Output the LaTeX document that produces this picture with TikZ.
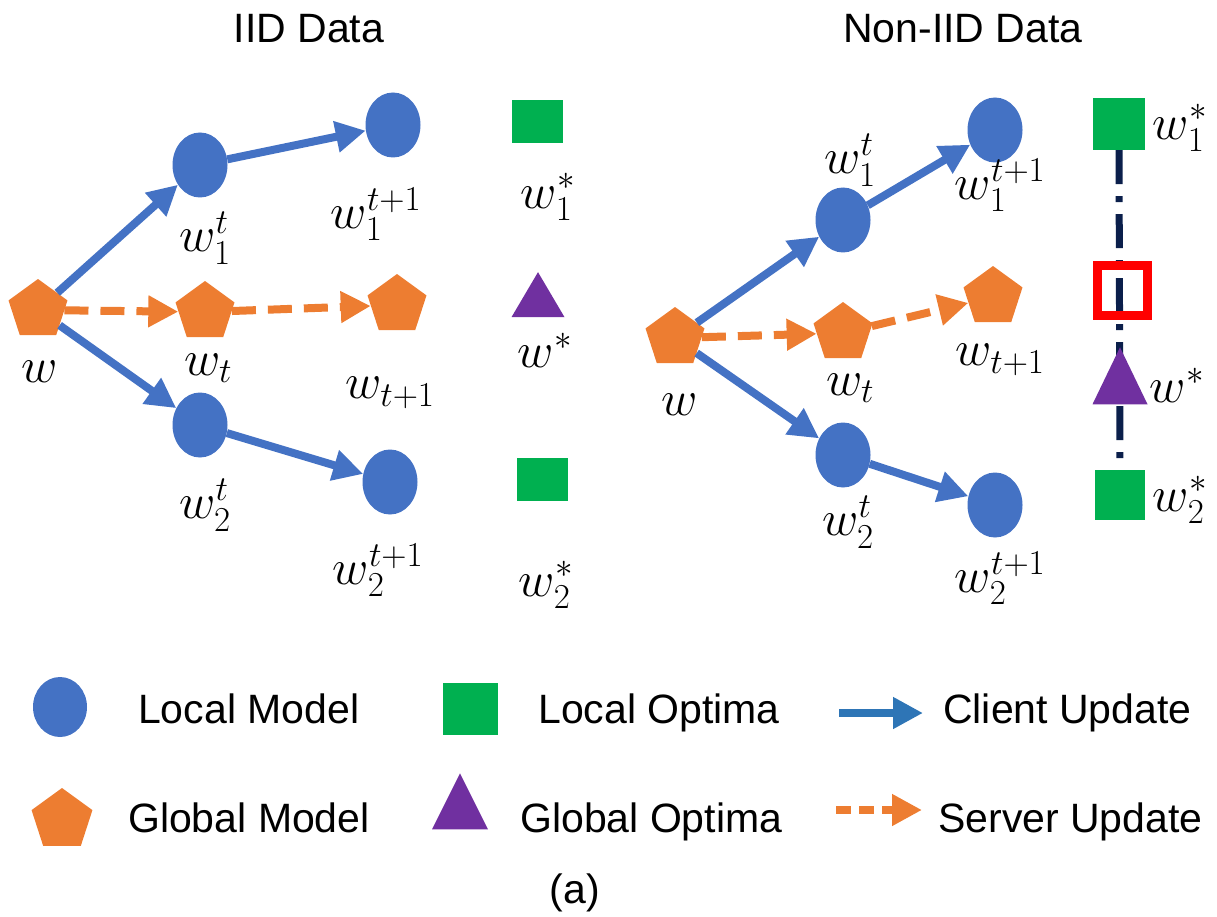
\RequirePackage{fix-cm}
\documentclass[tikz,border=0pt]{standalone}
\usepackage{fontspec}
\setsansfont{Liberation Sans}
\usetikzlibrary{shapes.geometric,arrows.meta,backgrounds}

\definecolor{modelblue}{HTML}{4472C4}
\definecolor{modelorange}{HTML}{ED7D31}
\definecolor{optgreen}{HTML}{00B050}
\definecolor{optpurple}{HTML}{7030A0}
\definecolor{linknavy}{HTML}{0B1F4B}
\definecolor{keyblue}{HTML}{2E75B6}

\tikzset{
  localmodel/.style={ellipse, fill=modelblue, inner sep=0pt, minimum width=55pt, minimum height=65pt},
  globalmodel/.style={regular polygon, regular polygon sides=5, fill=modelorange, inner sep=0pt, minimum size=62pt},
  localopt/.style={rectangle, fill=optgreen, inner sep=0pt, minimum width=51pt, minimum height=43pt},
  globalopt/.style={isosceles triangle, shape border rotate=90, isosceles triangle stretches,
                    fill=optpurple, inner sep=0pt, minimum width=53pt, minimum height=45pt},
  lab/.style={inner sep=0pt, font=\fontsize{50}{54}\selectfont},
  heading/.style={inner sep=0pt, font=\sffamily\fontsize{41}{45}\selectfont},
  keytext/.style={inner sep=0pt, anchor=base west, font=\sffamily\fontsize{41}{45}\selectfont},
  client/.style={draw=modelblue, line width=8pt, -{Triangle[length=30pt,width=30pt]}},
  server/.style={draw=modelorange, line width=8pt, dash pattern=on 24pt off 12pt,
                 -{Triangle[length=30pt,width=30pt]}},
  gap/.style={draw=linknavy, line width=7pt, dash pattern=on 34pt off 12pt on 6pt off 12pt},
}

\begin{document}
\begin{tikzpicture}[x=1pt,y=-1pt]
\useasboundingbox (0,0) rectangle (1217,917);

% ---------------- headings ----------------
\node[heading, anchor=base] (hiid) at (309,43) {IID Data};
\node[heading, anchor=base west] (hnon) at (843,43) {Non-IID Data};

% ---------------- IID panel ----------------
\node[globalmodel] (Lw)   at (38,310) {};
\node[globalmodel] (Lwt)  at (205,312) {};
\node[globalmodel] (Lwt1) at (397,305) {};
\node[localmodel]  (La)   at (200,165) {};
\node[localmodel]  (La1)  at (393,125) {};
\node[localmodel]  (Lb)   at (200,425) {};
\node[localmodel]  (Lb1)  at (390,482) {};
\node[localopt]    (Lo1)  at (537,122) {};
\node[globalopt]   (Lg)   at (538,302) {};
\node[localopt]    (Lo2)  at (542,479) {};

\draw[client] (Lw) -- (La);
\draw[client] (La) -- (La1);
\draw[client] (Lw) -- (Lb);
\draw[client] (Lb) -- (Lb1);
\draw[server] (Lw) -- (Lwt);
\draw[server] (Lwt) -- (Lwt1);

\node[lab] (lLw)   at (40,372)  {$w$};
\node[lab] (lLwt)  at (208,368) {$w_t$};
\node[lab] (lLwt1) at (390,393) {$w_{t+1}$};
\node[lab] (lLa)   at (205,238) {$w_1^t$};
\node[lab] (lLa1)  at (376,214) {$w_1^{t+1}$};
\node[lab] (lLb)   at (205,505) {$w_2^t$};
\node[lab] (lLb1)  at (378,570) {$w_2^{t+1}$};
\node[lab] (lLo1)  at (548,197) {$w_1^*$};
\node[lab] (lLg)   at (545,350) {$w^*$};
\node[lab] (lLo2)  at (546,585) {$w_2^*$};

% ---------------- Non-IID panel ----------------
\node[globalmodel] (Rw)   at (675,338) {};
\node[globalmodel] (Rwt)  at (843,333) {};
\node[globalmodel] (Rwt1) at (993,297) {};
\node[localmodel]  (Ra)   at (843,220) {};
\node[localmodel]  (Ra1)  at (995,130) {};
\node[localmodel]  (Rb)   at (843,455) {};
\node[localmodel]  (Rb1)  at (995,505) {};
\node[localopt, minimum width=52pt, minimum height=52pt] (Ro1) at (1119,124) {};
\node[draw=red, line width=9pt, inner sep=0pt, minimum size=50pt] (Rmix) at (1122,290) {};
\node[globalopt, minimum width=55pt, minimum height=57pt] (Rg) at (1120,387) {};
\node[localopt, minimum width=50pt, minimum height=50pt] (Ro2) at (1120,495) {};

\begin{pgfonlayer}{background}
  \draw[gap] (Ro1.south) -- (Ro2.north);
\end{pgfonlayer}

\draw[client] (Rw) -- (Ra);
\draw[client] (Ra) -- (Ra1);
\draw[client] (Rw) -- (Rb);
\draw[client] (Rb) -- (Rb1);
\draw[server] (Rw) -- (Rwt);
\draw[server] (Rwt) -- (Rwt1);

\node[lab] (lRw)   at (680,405)  {$w$};
\node[lab] (lRwt)  at (850,388)  {$w_t$};
\node[lab] (lRwt1) at (1000,360) {$w_{t+1}$};
\node[lab] (lRa)   at (850,160)  {$w_1^t$};
\node[lab] (lRa1)  at (1000,185) {$w_1^{t+1}$};
\node[lab] (lRb)   at (848,522)  {$w_2^t$};
\node[lab] (lRb1)  at (1000,578) {$w_2^{t+1}$};
\node[lab] (lRo1)  at (1180,128) {$w_1^*$};
\node[lab] (lRg)   at (1177,385) {$w^*$};
\node[lab] (lRo2)  at (1180,500) {$w_2^*$};

% ---------------- key ----------------
\node[localmodel, minimum width=54pt, minimum height=60pt] (kLm) at (60,707) {};
\node[keytext] (tLm) at (138,723) {Local Model};
\node[localopt, minimum width=55pt, minimum height=52pt] (kLo) at (470,709) {};
\node[keytext] (tLo) at (538,723) {Local Optima};
\coordinate (kc1) at (839,713);
\coordinate (kc2) at (923,713);
\draw[draw=keyblue, line width=8pt, -{Triangle[length=30pt,width=30pt]}] (kc1) -- (kc2);
\node[keytext] (tCu) at (943,723) {Client Update};

\node[globalmodel, minimum size=64pt] (kGm) at (62,820) {};
\node[keytext] (tGm) at (128,832) {Global Model};
\node[globalopt, minimum width=56pt, minimum height=56pt] (kGo) at (460,812) {};
\node[keytext] (tGo) at (520,832) {Global Optima};
\coordinate (ks1) at (836,810);
\coordinate (ks2) at (922,810);
\draw[draw=modelorange, line width=8pt, dash pattern=on 15pt off 8pt,
      -{Triangle[length=30pt,width=30pt]}] (ks1) -- (ks2);
\node[keytext] (tSu) at (938,832) {Server Update};

\node[heading, anchor=base] (cap) at (575,903) {(a)};
\end{tikzpicture}
\end{document}
